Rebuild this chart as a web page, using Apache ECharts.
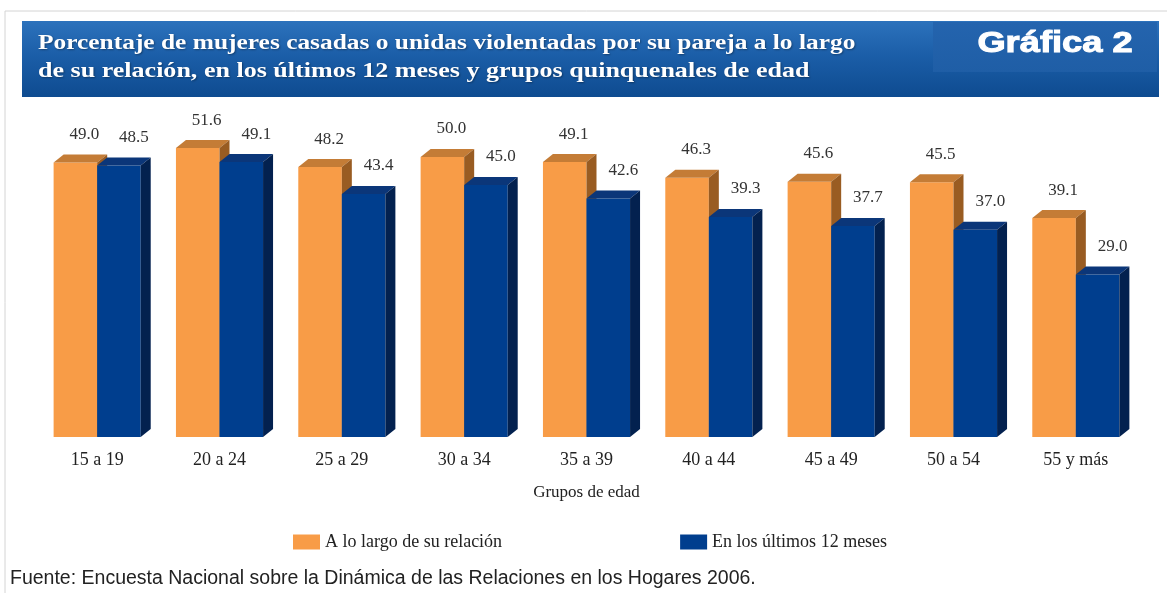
<!DOCTYPE html>
<html>
<head>
<meta charset="utf-8">
<script src="https://cdn.jsdelivr.net/npm/echarts@6/dist/echarts.min.js"></script>
<style>
html,body{margin:0;padding:0;background:#fff;}
#chart{width:1167px;height:593px;}
</style>
</head>
<body>
<div id="chart"></div>
<script>
const categories = ['15 a 19','20 a 24','25 a 29','30 a 34','35 a 39','40 a 44','45 a 49','50 a 54','55 y más'];
const seriesNames = ['A lo largo de su relación','En los últimos 12 meses'];
const aLoLargo = [49.0, 51.6, 48.2, 50.0, 49.1, 46.3, 45.6, 45.5, 39.1];
const ultimos12 = [48.5, 49.1, 43.4, 45.0, 42.6, 39.3, 37.7, 37.0, 29.0];
const titleLines = ['Porcentaje de mujeres casadas o unidas violentadas por su pareja a lo largo',
                    'de su relación, en los últimos 12 meses y grupos quinquenales de edad'];
const badge = 'Gráfica 2';
const xAxisName = 'Grupos de edad';
const source = 'Fuente: Encuesta Nacional sobre la Dinámica de las Relaciones en los Hogares 2006.';

const palettes = [
  {front:'#F89C47', top:'#C47C36', side:'#995C22', labelDx:9},
  {front:'#003E8E', top:'#0B3679', side:'#03214F', labelDx:15}
];
const DX = 10, DY = 8;
const SERIF = '"Liberation Serif","DejaVu Serif",serif';

function makeRender(si){
  return function(params, api){
    const cat = api.value(0), val = api.value(1);
    const base = api.coord([cat, 0]);
    const top = api.coord([cat, val]);
    const bw = api.size([1,0])[0] * 0.356;
    const x0 = si === 0 ? base[0] - bw : base[0];
    const p = palettes[si];
    const yb = base[1], yt = top[1];
    return {type:'group', children:[
      {type:'rect', shape:{x:x0, y:yt, width:bw, height:yb-yt}, style:{fill:p.front}},
      {type:'polygon', shape:{points:[[x0,yt],[x0+DX,yt-DY],[x0+bw+DX,yt-DY],[x0+bw,yt]]}, style:{fill:p.top}},
      {type:'polygon', shape:{points:[[x0+bw,yt],[x0+bw+DX,yt-DY],[x0+bw+DX,yb-DY],[x0+bw,yb]]}, style:{fill:p.side}},
      {type:'text', style:{x:x0+bw/2+p.labelDx, y:yt-28, text:api.value(1).toFixed(1), fill:'#333',
        font:'17px '+SERIF, align:'center', verticalAlign:'middle'}}
    ]};
  };
}

const chart = echarts.init(document.getElementById('chart'), null, {renderer:'canvas'});
chart.setOption({
  backgroundColor:'#fff',
  animation:false,
  grid:{left:36, right:30, top:101, bottom:156},
  xAxis:{type:'category', data:categories,
    axisLine:{show:false}, axisTick:{show:false},
    axisLabel:{fontFamily:SERIF, fontSize:18, color:'#222', margin:14},
    name:xAxisName, nameLocation:'middle', nameGap:47,
    nameTextStyle:{fontFamily:SERIF, fontSize:17, color:'#222'}},
  yAxis:{type:'value', min:0, max:60, show:false, splitLine:{show:false}},
  legend:{left:288, top:528, itemWidth:27, itemHeight:15, itemGap:178, icon:'rect',
    data:seriesNames, textStyle:{fontFamily:SERIF, fontSize:18, color:'#222'}},
  series:[
    {name:seriesNames[0], type:'custom', renderItem:makeRender(0), itemStyle:{color:palettes[0].front},
      data:aLoLargo.map((v,i)=>[i,v]), encode:{x:0,y:1}, clip:false},
    {name:seriesNames[1], type:'custom', renderItem:makeRender(1), itemStyle:{color:palettes[1].front},
      data:ultimos12.map((v,i)=>[i,v]), encode:{x:0,y:1}, clip:false}
  ],
  graphic:[
    {type:'polyline', shape:{points:[[5,600],[5,11],[1170,11]]}, style:{stroke:'#d4d4d4', lineWidth:1, fill:null}},
    {type:'rect', shape:{x:22, y:21, width:1137, height:76},
      style:{fill:new echarts.graphic.LinearGradient(0,0,0,1,[
        {offset:0,color:'#2C72BC'},{offset:0.45,color:'#1B5EA8'},{offset:1,color:'#0E4B90'}])}},
    {type:'rect', shape:{x:933, y:22, width:224, height:50},
      style:{fill:new echarts.graphic.LinearGradient(0,0,0,1,[
        {offset:0,color:'#2464AE'},{offset:1,color:'#1F5EA6'}])}},
    {type:'text', x:38, y:44, scaleX:1.21,
      style:{text:titleLines[0], fill:'#fff', font:'bold 21px '+SERIF, verticalAlign:'middle',
        textShadowColor:'rgba(0,0,0,0.35)', textShadowBlur:2, textShadowOffsetX:1, textShadowOffsetY:1}},
    {type:'text', x:38, y:72, scaleX:1.24,
      style:{text:titleLines[1], fill:'#fff', font:'bold 21px '+SERIF, verticalAlign:'middle',
        textShadowColor:'rgba(0,0,0,0.35)', textShadowBlur:2, textShadowOffsetX:1, textShadowOffsetY:1}},
    {type:'text', x:1055, y:44, scaleX:1.25,
      style:{text:badge, fill:'#fff', font:'bold 29px "Liberation Sans",Arial,sans-serif', align:'center', verticalAlign:'middle',
        stroke:'#fff', lineWidth:1}},
    {type:'text', x:10, y:579,
      style:{text:source, fill:'#222', font:'19.5px "Liberation Sans",Arial,sans-serif', verticalAlign:'middle'}}
  ]
});
</script>
</body>
</html>
